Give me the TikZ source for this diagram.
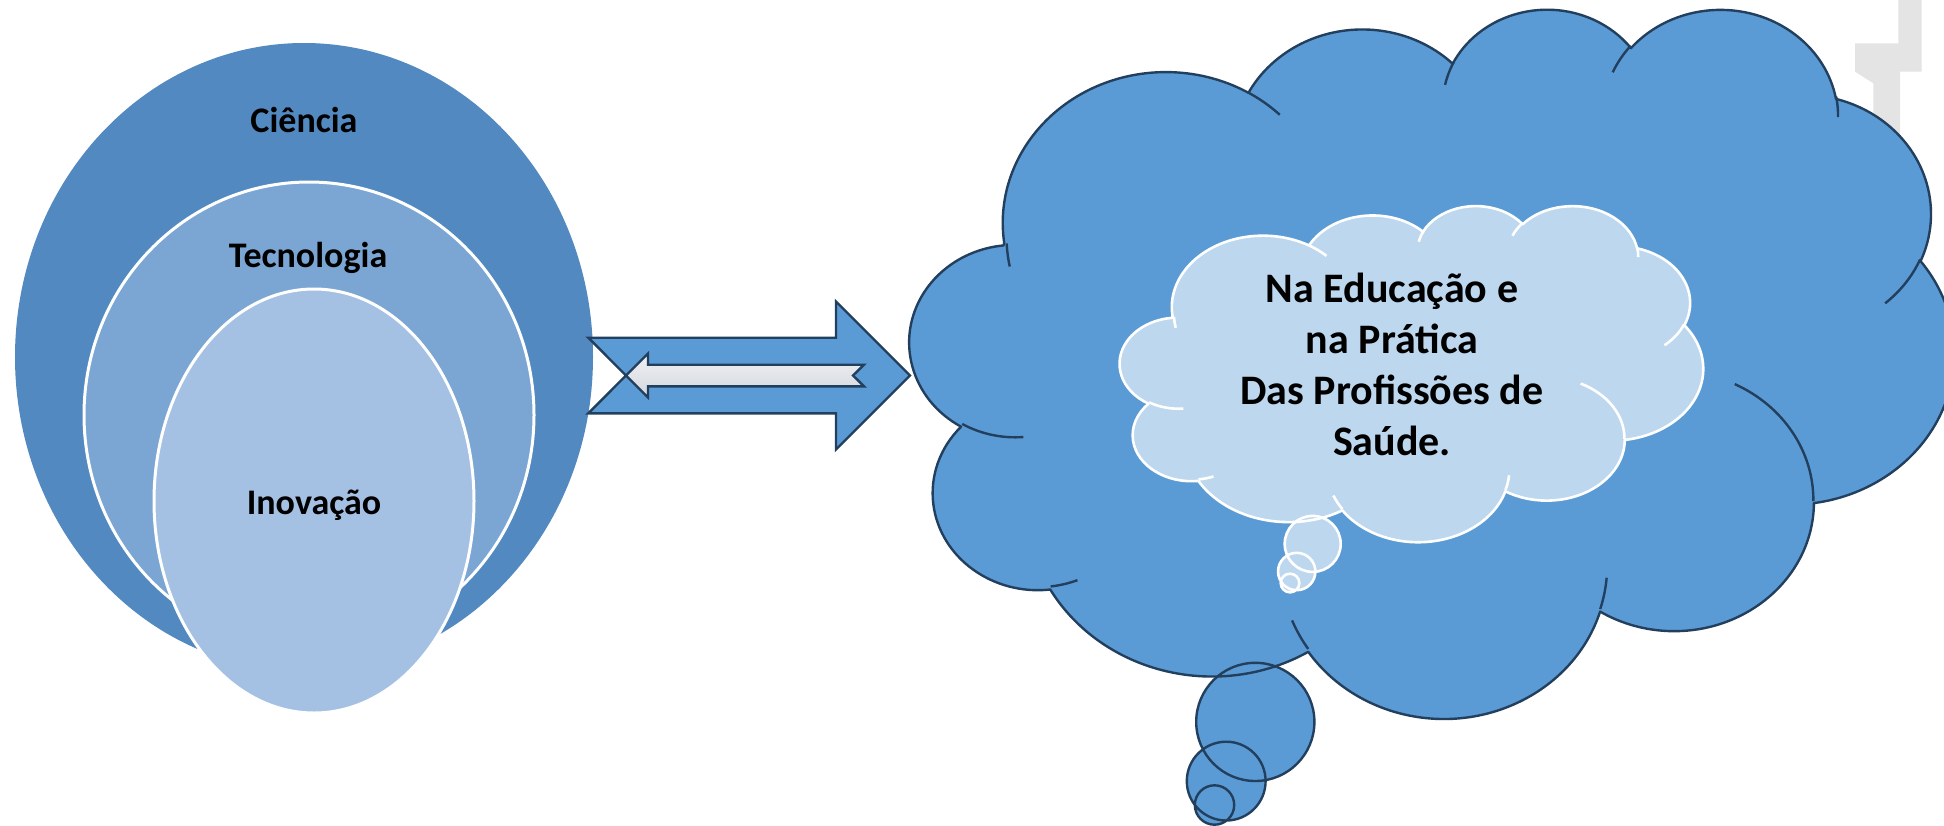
\documentclass[tikz,border=0pt]{standalone}
\usepackage{fontspec}
\setmainfont{Carlito}
\definecolor{ciencia}{HTML}{5189C0}
\definecolor{tecno}{HTML}{7BA6D3}
\definecolor{inov}{HTML}{A4C1E4}
\definecolor{cloudblue}{HTML}{5B9BD5}
\definecolor{cloudlight}{HTML}{BDD7EE}
\definecolor{navy}{HTML}{223F5E}
\definecolor{graymark}{HTML}{E4E4E4}
\definecolor{arrowtop}{HTML}{F0F1F4}
\definecolor{arrowbot}{HTML}{D3D7DE}
% elliptical arc with DrawingML (visual) angles
\newcommand\oarc[4]{\pgfextra{\pgfmathparse{atan2((#1)*sin(#3),(#2)*cos(#3))}\xdef\oarcS{\pgfmathresult}\pgfmathparse{mod(atan2((#1)*sin((#3)+(#4)),(#2)*cos((#3)+(#4)))-\oarcS+720,360)}\xdef\oarcD{\pgfmathresult}} arc[x radius=#1,y radius=#2,start angle=\oarcS,delta angle=\oarcD]}
\newcommand\cloudoutline{(39.00,143.70)
 \oarc{67.53}{91.90}{-190.4875}{123.7805}
 \oarc{53.33}{72.67}{-144.1024}{89.9452}
 \oarc{43.65}{59.45}{-145.8079}{99.7230}
 \oarc{48.57}{65.95}{-130.9861}{117.2417}
 \oarc{53.33}{72.73}{-78.7089}{109.0269}
 \oarc{67.75}{92.20}{-46.2673}{130.2690}
 \oarc{57.85}{78.67}{0.6250}{114.0333}
 \oarc{67.52}{92.15}{22.4516}{115.1726}
 \oarc{77.20}{105.43}{66.2426}{75.7110}
 \oarc{43.60}{59.18}{-274.9421}{146.7356}
 \oarc{43.45}{59.45}{-246.8285}{152.5189} -- cycle}
\newcommand\cloudinner{
 (46.93,261.77) \oarc{43.45}{59.45}{86.742}{26.4295}
 (69.28,348.99) \oarc{43.60}{59.18}{73.6105}{11.4475}
 (164.78,390.90) \oarc{67.52}{92.15}{137.6242}{14.0811}
 (288.27,347.51) \oarc{67.52}{92.15}{6.4533}{15.9984}
 (341.29,229.54) \oarc{57.85}{78.67}{-70.2924}{70.9174}
 (417.98,153.54) \oarc{53.33}{72.73}{30.3180}{27.7515}
 (383.24,54.26) \oarc{48.57}{65.95}{-13.7443}{14.8589}
 (290.78,39.52) \oarc{48.57}{65.95}{-149.1815}{18.1954}
 (221.41,47.20) \oarc{43.65}{59.45}{-163.4943}{17.6864}
 (140.00,51.92) \oarc{67.53}{91.90}{-66.7070}{12.3194}
 (41.27,157.89) \oarc{67.53}{91.90}{164.6688}{11.8519}}
\tikzset{
 lbl/.style={font=\fontsize{18}{21}\selectfont\bfseries, inner sep=0pt, anchor=base},
 ring/.style={draw=white, line width=1.5pt},
 bigline/.style={draw=navy, line width=1.2pt},
 smallline/.style={draw=white, line width=1.3pt},
 arrowbox/.style={fill=cloudblue, draw=navy, line width=1.2pt, line join=miter},
 innerbox/.style={top color=arrowtop, bottom color=arrowbot, draw=navy, line width=1.2pt, line join=miter}
}
\begin{document}
\begin{tikzpicture}[x=0.5pt,y=-0.5pt,line join=round]
\useasboundingbox (0,0) rectangle (1944,825);
\clip (0,0) rectangle (1944,825);
% light grey mark behind the cloud
\fill[graymark] (1898.3,0) -- (1921.7,0) -- (1921.7,71.7) -- (1900,71.7) -- (1900,230) -- (1873.3,230) -- (1873.3,83.3) -- (1855,71.7) -- (1855,43.3) -- (1898.3,43.3) -- cycle;
% nested ellipses
\fill[ciencia] (304,357) ellipse[x radius=289, y radius=314];
\fill[tecno] (309,415) ellipse[x radius=225, y radius=233];
\draw[ring] (309,415) ellipse[x radius=225, y radius=233];
\fill[inov] (314,501) ellipse[x radius=160, y radius=212];
\draw[ring] (314,501) ellipse[x radius=160, y radius=212];
\node[lbl] (ciencia) at (304,132) {Ciência};
\node[lbl] (tecnologia) at (308,267) {Tecnologia};
\node[lbl] (inovacao) at (314,514) {Inovação};
% notched arrow and inner arrow
\path[arrowbox] (588.3,337.7) -- (836,337.7) -- (836,301.5) -- (910,375.5) -- (836,449.5) -- (836,413.3) -- (588.3,413.3) -- (626,375.5) -- cycle;
\path[innerbox] (626,375.5) -- (648,353.5) -- (648,364.7) -- (864,364.7) -- (853,375.5) -- (864,386.3) -- (648,386.3) -- (648,397.5) -- cycle;
% big cloud callout
\begin{scope}[shift={(910,7.4)}, xscale=2.41667, yscale=1.64120]
\fill[cloudblue] \cloudoutline;
\end{scope}
\fill[cloudblue] (1214.5,805) circle[radius=19.7] (1226.2,781.1) circle[radius=39.4] (1255.3,721.9) circle[radius=59.1];
\begin{scope}[shift={(910,7.4)}, xscale=2.41667, yscale=1.64120]
\draw[bigline] \cloudoutline;
\draw[bigline] \cloudinner;
\end{scope}
\draw[bigline] (1214.5,805) circle[radius=19.7] (1226.2,781.1) circle[radius=39.4] (1255.3,721.9) circle[radius=59.1];
% small cloud callout
\begin{scope}[shift={(1120,205)}, xscale=1.34954, yscale=0.77778]
\fill[cloudlight] \cloudoutline;
\end{scope}
\fill[cloudlight] (1290,583) circle[radius=9.33] (1296.7,571.5) circle[radius=18.67] (1312.7,543.9) circle[radius=28];
\begin{scope}[shift={(1120,205)}, xscale=1.34954, yscale=0.77778]
\draw[smallline] \cloudoutline;
\draw[smallline] \cloudinner;
\end{scope}
\draw[smallline] (1290,583) circle[radius=9.33] (1296.7,571.5) circle[radius=18.67] (1312.7,543.9) circle[radius=28];
\node[anchor=base, inner sep=0pt, font=\fontsize{21}{25.5}\selectfont\bfseries] (cloudtext) at (1392,455)
 {\begin{tabular}[b]{@{}c@{}}Na Educação e\\na Prática\\Das Profissões de\\Saúde.\end{tabular}};
\end{tikzpicture}
\end{document}
